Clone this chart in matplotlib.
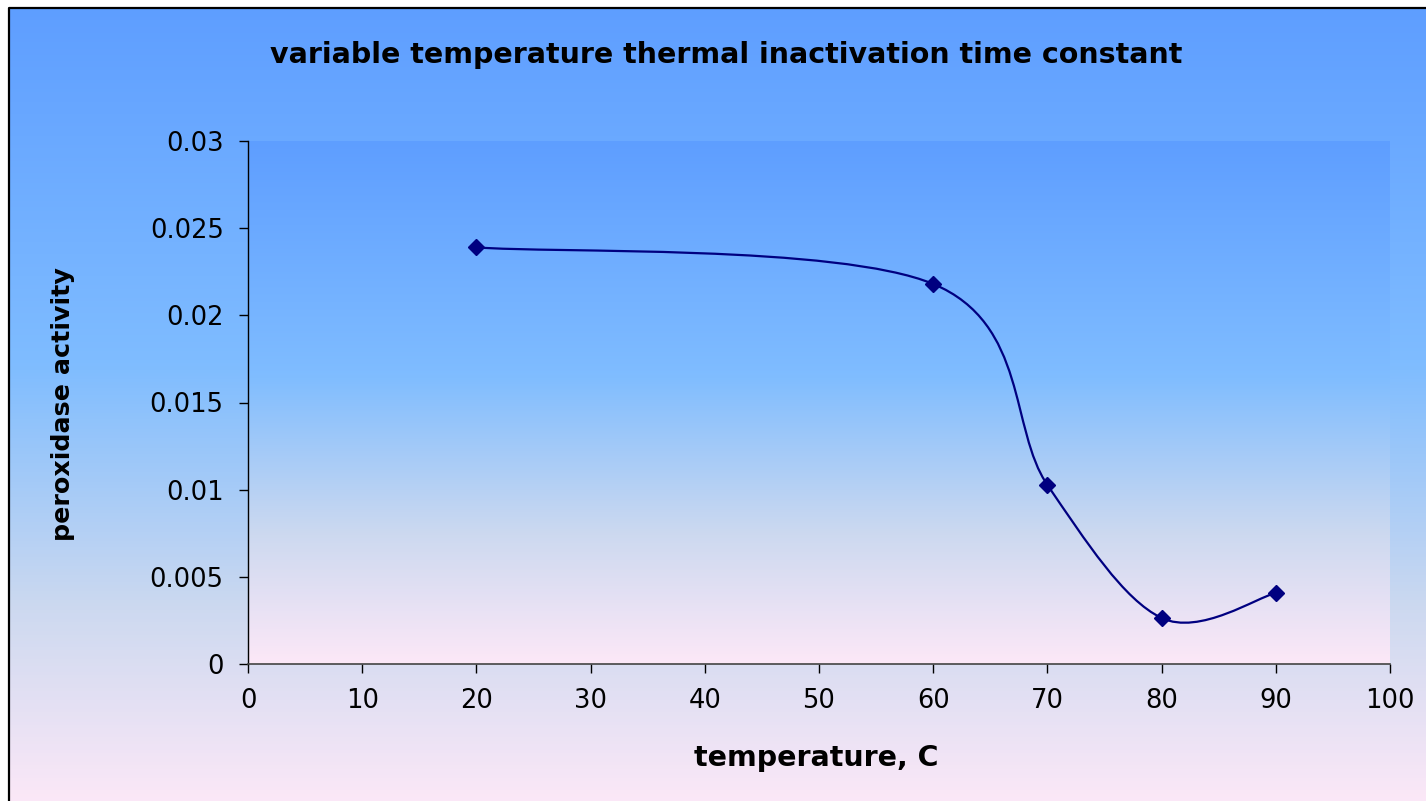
import matplotlib
matplotlib.use("Agg")
import matplotlib.pyplot as plt
import numpy as np
from matplotlib.colors import LinearSegmentedColormap
from matplotlib.path import Path
from matplotlib.patches import PathPatch

# DejaVu is wider than Arial, which is closer to the stretched Excel text
plt.rcParams['font.family'] = ['DejaVu Sans']

# data
temperature = [20, 60, 70, 80, 90]
activity = [0.0239, 0.0218, 0.01027, 0.00264, 0.00407]

x_ticks = list(range(0, 101, 10))
y_ticks = [0, 0.005, 0.01, 0.015, 0.02, 0.025, 0.03]
y_tick_labels = ['0', '0.005', '0.01', '0.015', '0.02', '0.025', '0.03']

title = "variable temperature thermal inactivation time constant"
xlabel = "temperature, C"
ylabel = "peroxidase activity"

W, H = 1426, 801

# blue at the top fading to pink at the bottom, like the Excel fill
grad = LinearSegmentedColormap.from_list("excel", [
    (0.00, (0.37, 0.62, 1.00)),
    (0.45, (0.50, 0.74, 1.00)),
    (0.75, (0.80, 0.85, 0.94)),
    (1.00, (0.99, 0.91, 0.97)),
])
ramp = np.linspace(0, 1, 256).reshape(-1, 1)

fig = plt.figure(figsize=(W / 100, H / 100), dpi=100)
fig.patch.set_facecolor('white')

# figure background in pixel coordinates
bg = fig.add_axes([0, 0, 1, 1])
bg.set_xlim(0, W)
bg.set_ylim(H, 0)
bg.axis('off')
bg.imshow(ramp, cmap=grad, aspect='auto', extent=[9, W + 5, H + 5, 8], zorder=0)
bg.plot([9, 9, W + 5], [H + 5, 8, 8], color='black', lw=1.6, zorder=1)

ax = fig.add_axes([248 / W, 1 - 664 / H, (1390 - 248) / W, (664 - 141) / H])
ax.patch.set_visible(False)
ax.imshow(ramp, cmap=grad, aspect='auto', extent=[0, 1, 0, 1],
          transform=ax.transAxes, zorder=0)

# smoothed line (Catmull-Rom style bezier like Excel's "smoothed line")
pts = np.column_stack([temperature, activity])
verts = [pts[0]]
codes = [Path.MOVETO]
n = len(pts)
for i in range(n - 1):
    p0 = pts[max(i - 1, 0)]
    p1 = pts[i]
    p2 = pts[i + 1]
    p3 = pts[min(i + 2, n - 1)]
    verts += [p1 + (p2 - p0) / 6, p2 - (p3 - p1) / 6, p2]
    codes += [Path.CURVE4] * 3
ax.add_patch(PathPatch(Path(verts, codes), fill=False, edgecolor='#000080',
                       lw=1.6, zorder=3))
ax.plot(temperature, activity, linestyle='none', marker='D', markersize=8,
        color='#000080', zorder=4)

ax.set_xlim(0, 100)
ax.set_ylim(0, 0.03)
ax.set_xticks(x_ticks)
ax.set_yticks(y_ticks)
ax.set_yticklabels(y_tick_labels)

for s in ['top', 'right']:
    ax.spines[s].set_visible(False)
ax.spines['left'].set_color('black')
ax.spines['bottom'].set_color('#444444')
ax.spines['left'].set_linewidth(1.0)
ax.spines['bottom'].set_linewidth(1.2)
ax.tick_params(axis='both', direction='out', length=6.5, width=1.0,
               labelsize=18.5, colors='black')
ax.tick_params(axis='y', pad=11)
ax.tick_params(axis='x', pad=11)

fig.text(726 / W, 1 - 55 / H, title, ha='center', va='center',
         fontsize=20.5, fontweight='bold')
fig.text(816 / W, 1 - 758 / H, xlabel, ha='center', va='center',
         fontsize=20.5, fontweight='bold')
fig.text(63 / W, 1 - 404 / H, ylabel, ha='center', va='center',
         rotation=90, fontsize=18.3, fontweight='bold')

fig.savefig("out.png", dpi=100)
